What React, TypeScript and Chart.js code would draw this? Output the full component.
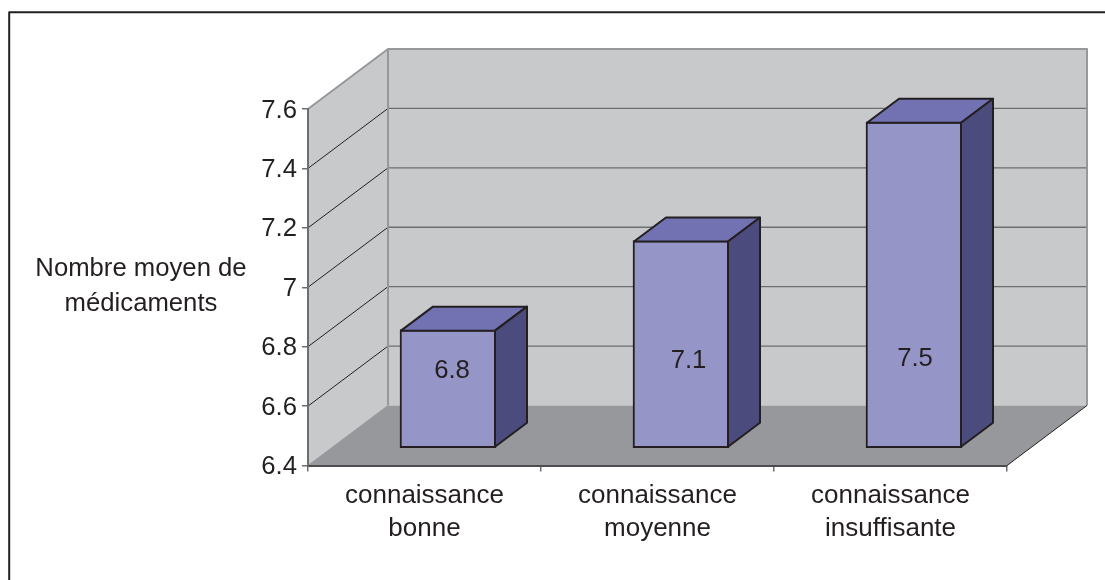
import React, { useEffect, useRef } from "react";
import { Chart, registerables } from "chart.js";

Chart.register(...registerables);

const categories = [
  ["connaissance", "bonne"],
  ["connaissance", "moyenne"],
  ["connaissance", "insuffisante"],
];
const values = [6.8, 7.1, 7.5];
const yTicks = [6.4, 6.6, 6.8, 7, 7.2, 7.4, 7.6];
const yTitleLines = ["Nombre moyen de", "médicaments"];

const FONT = "'Liberation Sans', Arial, sans-serif";
const FONT_SIZE = 25.7;
const INK = "#231F20";
const WALL = "#C8C9CB";
const FLOOR = "#97989B";
const GRID = "#6D6E70";
const FRONT = "#9595C8";
const TOP = "#7272B3";
const SIDE = "#4B4B7D";
// depth of the box
const WALL_DX = 80;
const WALL_DY = -60;
const BAR_SHIFT_X = 23.5;
const BAR_SHIFT_Y = -17;
const BAR_DX = 32;
const BAR_DY = -24;
const Y_LABEL_NUDGE = 1.5;
// placement of value labels relative to the top centre of the front face
const LABEL_OFFSETS = [
  { dx: 4, dy: 41.5 },
  { dx: 7.5, dy: 120.5 },
  { dx: 1, dy: 237.5 },
];

function poly(ctx: CanvasRenderingContext2D, pts: number[][], fill?: string, stroke?: string, lw = 1) {
  ctx.beginPath();
  pts.forEach((p, i) => (i ? ctx.lineTo(p[0], p[1]) : ctx.moveTo(p[0], p[1])));
  if (fill) {
    ctx.closePath();
    ctx.fillStyle = fill;
    ctx.fill();
  }
  if (stroke) {
    ctx.strokeStyle = stroke;
    ctx.lineWidth = lw;
    ctx.lineJoin = "round";
    ctx.stroke();
  }
}

const box3d = {
  id: "box3d",
  beforeDraw(chart: any) {
    const { ctx, chartArea: a, scales } = chart;
    const { left: l, right: r, top: t, bottom: b } = a;
    const dx = WALL_DX;
    const dy = WALL_DY;
    ctx.save();
    ctx.fillStyle = "#FFFFFF";
    ctx.fillRect(0, 0, chart.width, chart.height);
    // outer frame
    poly(ctx, [[9.2, 580], [9.2, 12.3], [1105, 12.3]], undefined, INK, 2);
    // walls and floor
    poly(ctx, [[l + dx, t + dy], [r + dx, t + dy], [r + dx, b + dy], [l + dx, b + dy]], WALL);
    poly(ctx, [[l, b], [l, t], [l + dx, t + dy], [l + dx, b + dy]], WALL);
    poly(ctx, [[l, b], [l + dx, b + dy], [r + dx, b + dy], [r, b]], FLOOR);
    // grid lines
    yTicks.slice(1).forEach((v) => {
      const y = scales.y.getPixelForValue(v);
      if (v < yTicks[yTicks.length - 1]) {
        poly(ctx, [[l, y], [l + dx, y + dy]], undefined, "#231F20", 1);
      }
      poly(ctx, [[l + dx, y + dy], [r + dx, y + dy]], undefined, GRID, 1.4);
    });
    // box edges
    poly(ctx, [[l, t], [l + dx, t + dy], [r + dx, t + dy], [r + dx, b + dy]], undefined, FLOOR, 2);
    poly(ctx, [[l + dx, t + dy], [l + dx, b + dy]], undefined, FLOOR, 2);
    poly(ctx, [[l, b], [l + dx, b + dy]], undefined, FLOOR, 1);
    poly(ctx, [[r, b], [r + dx, b + dy]], undefined, "#231F20", 1);
    // y title
    ctx.fillStyle = INK;
    ctx.font = `${FONT_SIZE}px ${FONT}`;
    ctx.textAlign = "center";
    ctx.textBaseline = "middle";
    ctx.fillText(yTitleLines[0], 141, 269);
    ctx.fillText(yTitleLines[1], 141, 304);
    ctx.restore();
  },
  beforeDatasetsDraw(chart: any) {
    chart.ctx.save();
    chart.ctx.translate(BAR_SHIFT_X, BAR_SHIFT_Y);
  },
  afterDatasetsDraw(chart: any) {
    const ctx = chart.ctx;
    const bars = chart.getDatasetMeta(0).data;
    bars.forEach((bar: any) => {
      const x0 = bar.x - bar.width / 2 + 1;
      const x1 = bar.x + bar.width / 2 - 1;
      const y0 = bar.y + 1;
      const y1 = bar.base - 1;
      poly(ctx, [[x0, y0], [x0 + BAR_DX, y0 + BAR_DY], [x1 + BAR_DX, y0 + BAR_DY], [x1, y0]], TOP, INK, 2);
      poly(ctx, [[x1, y0], [x1 + BAR_DX, y0 + BAR_DY], [x1 + BAR_DX, y1 + BAR_DY], [x1, y1]], SIDE, INK, 2);
    });
    bars.forEach((bar: any, i: number) => {
      ctx.fillStyle = INK;
      ctx.font = `${FONT_SIZE}px ${FONT}`;
      ctx.textAlign = "center";
      ctx.textBaseline = "middle";
      ctx.fillText(String(values[i]), bar.x + LABEL_OFFSETS[i].dx, bar.y + LABEL_OFFSETS[i].dy);
    });
    ctx.restore();
  },
};

export default function App() {
  const ref = useRef<HTMLCanvasElement | null>(null);
  useEffect(() => {
    if (!ref.current) return;
    const chart = new Chart(ref.current, {
      type: "bar",
      data: {
        labels: categories,
        datasets: [
          {
            data: values,
            base: yTicks[0],
            backgroundColor: FRONT,
            borderColor: INK,
            borderWidth: 2,
            borderSkipped: false,
            barThickness: 96,
            clip: false,
          },
        ],
      },
      plugins: [box3d],
      options: {
        responsive: false,
        animation: false,
        events: [],
        layout: { padding: { top: 109, right: 98, left: 0, bottom: 0 } },
        plugins: { legend: { display: false }, title: { display: false }, tooltip: { enabled: false } },
        scales: {
          x: {
            afterFit: (s: any) => {
              s.height = 114.5;
            },
            grid: { drawOnChartArea: false, color: GRID, tickLength: 6, lineWidth: 1.5, offset: true },
            border: { color: "#4D4D4F", width: 2 },
            ticks: {
              color: INK,
              font: { family: FONT, size: 26, lineHeight: 1.3 },
              padding: 7,
              maxRotation: 0,
              autoSkip: false,
            },
          },
          y: {
            min: yTicks[0],
            max: yTicks[yTicks.length - 1],
            afterFit: (s: any) => {
              s.width = 308;
              if (!s.__nudged) {
                s.__nudged = true;
                const orig = s.getLabelItems.bind(s);
                s.getLabelItems = (area: any) =>
                  orig(area).map((it: any) => ({
                    ...it,
                    options: {
                      ...it.options,
                      translation: [it.options.translation[0], it.options.translation[1] + Y_LABEL_NUDGE],
                    },
                  }));
              }
            },
            afterBuildTicks: (s: any) => {
              s.ticks = yTicks.map((value) => ({ value }));
            },
            grid: { drawOnChartArea: false, color: GRID, tickLength: 6, lineWidth: 1.5 },
            border: { color: GRID, width: 2 },
            ticks: {
              color: INK,
              font: { family: FONT, size: FONT_SIZE },
              padding: 5,
              callback: (v: any) => String(v),
            },
          },
        },
      },
    } as any);
    return () => chart.destroy();
  }, []);
  return (
    <div style={{ position: "fixed", left: 0, top: 0, width: 1105, height: 580, background: "#fff" }}>
      <canvas ref={ref} width={1105} height={580} style={{ display: "block" }} />
    </div>
  );
}
